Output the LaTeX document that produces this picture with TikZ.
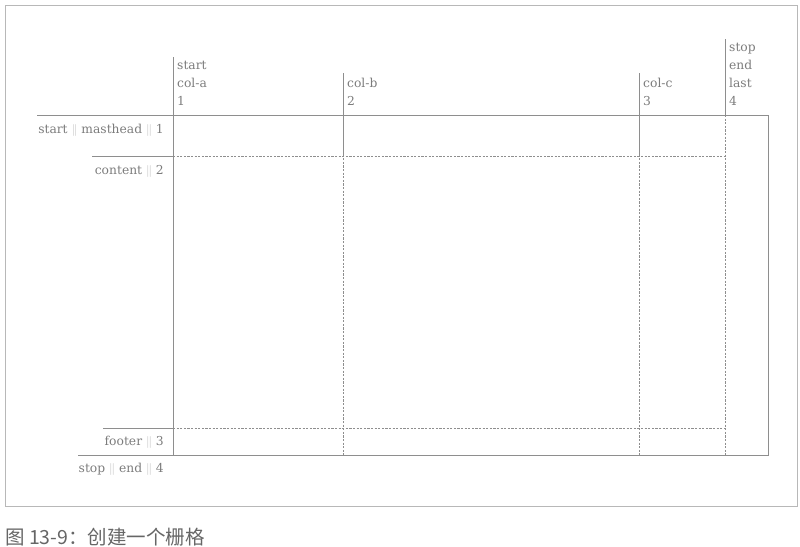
\documentclass[tikz,border=0pt]{standalone}
\usepackage{fontspec}
\setmainfont{DejaVu Serif}
\newfontfamily\cjk{Noto Sans CJK SC}
\usetikzlibrary{positioning}
\definecolor{ink}{HTML}{7C7C7C}
\definecolor{rule}{HTML}{8E8E8E}
\definecolor{bar}{HTML}{BDBDBD}
\newcommand{\sepbar}{\textcolor{bar}{$\Vert$}}

\begin{document}
\begin{tikzpicture}[x=1pt, y=-1pt, font=\fontsize{12.3}{18}\selectfont]

	\tikzset{
		frame/.style={draw=black!28, line width=0.8pt},
		solidline/.style={draw=rule, line width=0.8pt},
		gridline/.style={draw=rule, line width=0.9pt, dash pattern=on 2.2pt off 1.4pt},
		collabel/.style={anchor=north west, align=left, inner sep=0pt, text=ink},
		rowlabel/.style={anchor=north east, inner sep=0pt, text=ink},
		caption/.style={anchor=west, inner sep=0pt, text=black!60, font=\cjk\fontsize{19.5}{22}\selectfont}
	}

	\useasboundingbox (0,0) rectangle (800,546);
	\draw[frame] (5,5) rectangle (797,506);

	% ---------------------------
	% grid lines: columns c1..c4, rows r1..r4
	% ---------------------------
	\foreach \n/\x in {1/173, 2/343, 3/639, 4/725} {
		\coordinate (c\n) at (\x,115);
	}
	\foreach \n/\y in {1/115, 2/156, 3/428, 4/455} {
		\coordinate (r\n) at (173,\y);
	}
	% top ends of the column lines, left ends of the row lines
	\coordinate (c1top) at (173,57);
	\coordinate (c2top) at (343,73);
	\coordinate (c3top) at (639,73);
	\coordinate (c4top) at (725,39);
	\coordinate (r1end) at (37,115);
	\coordinate (r2end) at (92,156);
	\coordinate (r3end) at (103,428);
	\coordinate (r4end) at (78,455);
	\coordinate (boxse) at (768,455);

	% container
	\draw[solidline] (c1) rectangle (boxse);

	% named lines outside the grid
	\foreach \n in {1,...,4} {
		\draw[solidline] (c\n) -- (c\n top);
		\draw[solidline] (r\n) -- (r\n end);
	}
	\draw[solidline] (c2 |- r1) -- (c2 |- r2);
	\draw[solidline] (c3 |- r1) -- (c3 |- r2);

	% dashed tracks
	\foreach \n in {1,...,4} {
		\draw[gridline] (c\n |- r1) -- (c\n |- r4);
		\draw[gridline] (c1 |- r\n) -- (c4 |- r\n);
	}

	% ---------------------------
	% line names
	% ---------------------------
	\node[collabel] (lc1) at (177,61) {start\\col-a\\1};
	\node[collabel] (lc2) at (347,78) {col-b\\2};
	\node[collabel] (lc3) at (643,78) {col-c\\3};
	\node[collabel] (lc4) at (729,43) {stop\\end\\last\\4};

	\node[rowlabel] (lr1) at (164,124) {start \sepbar{} masthead \sepbar{} 1};
	\node[rowlabel] (lr2) at (164,165) {content \sepbar{} 2};
	\node[rowlabel] (lr3) at (164,436) {footer \sepbar{} 3};
	\node[rowlabel] (lr4) at (164,463) {stop \sepbar{} end \sepbar{} 4};

	\node[caption] (cap) at (5,537) {图 13-9：创建一个栅格};

\end{tikzpicture}
\end{document}
